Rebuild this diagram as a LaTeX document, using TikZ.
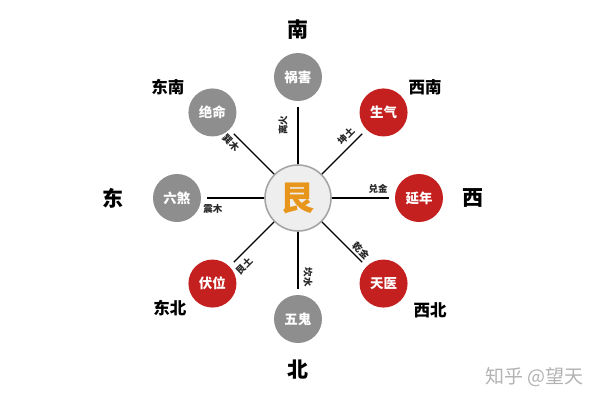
\documentclass[tikz,border=0pt]{standalone}
\usepackage{fontspec}
\setmainfont{Noto Sans CJK SC}
\definecolor{palacegray}{HTML}{8E8E8E}
\definecolor{palacered}{HTML}{C4201F}
\definecolor{genorange}{HTML}{E8951C}
\definecolor{hubfill}{HTML}{EEEEEE}

\begin{document}
\begin{tikzpicture}[x=1pt, y=1pt,
  palace/.style={circle, minimum size=48pt, inner sep=0pt, text=white,
    font=\bfseries\fontsize{13.5}{14}\selectfont},
  good/.style={palace, fill=palacered},
  bad/.style={palace, fill=palacegray},
  spoke/.style={line width=1.4pt, shorten >=6pt},
  trigram/.style={inner sep=0pt, text=black!85, font=\bfseries\fontsize{9.5}{10}\selectfont},
  compass/.style={font=\bfseries\fontsize{21}{21}\selectfont},
  corner/.style={font=\bfseries\fontsize{16.5}{17}\selectfont}]
  \useasboundingbox (-298,-202) rectangle (302,198);

  % Centre
  \node[circle, minimum size=66pt, fill=hubfill, draw=palacegray!80, line width=1.6pt,
    text=genorange, font=\bfseries\fontsize{34}{34}\selectfont] (gen) at (0,0) {艮};

  % Palaces
  \node[bad]  (huohai)  at (90:121)   {祸害};
  \node[good] (shengqi) at (45:121)   {生气};
  \node[good] (yannian) at (0:121)    {延年};
  \node[good] (tianyi)  at (-45:121)  {天医};
  \node[bad]  (wugui)   at (-90:121)  {五鬼};
  \node[good] (fuwei)   at (-135:121) {伏位};
  \node[bad]  (liusha)  at (180:121)  {六煞};
  \node[bad]  (jueming) at (135:121)  {绝命};

  % Spokes
  \draw[spoke] (gen) -- (huohai);
  \draw[spoke] (gen) -- (shengqi);
  \draw[spoke] (gen) -- (yannian);
  \draw[spoke] (gen) -- (tianyi);
  \draw[spoke] (gen) -- (wugui);
  \draw[spoke] (gen) -- (fuwei);
  \draw[spoke] (gen) -- (liusha);
  \draw[spoke] (gen) -- (jueming);

  % Trigrams on the spokes
  \node[trigram, rotate=90]  (li)   at (-15,73)  {离火};   % south
  \node[trigram, rotate=45]  (kun)  at (48,62)   {坤土};   % south-west
  \node[trigram]             (dui)  at (80,9)    {兑金};   % west
  \node[trigram, rotate=-45] (qian) at (63,-53)  {乾金};   % north-west
  \node[trigram, rotate=-90] (kan)  at (10,-79)  {坎水};   % north
  \node[trigram, rotate=45]  (gent) at (-54,-68) {艮土};   % north-east
  \node[trigram]             (zhen) at (-85,-11) {震木};   % east
  \node[trigram, rotate=-45] (xun)  at (-67,55)  {巽木};   % south-east

  % Directions
  \node[compass] (nan)  at (0,168)    {南};
  \node[compass] (bei)  at (0,-172)   {北};
  \node[compass] (dong) at (-185,0)   {东};
  \node[compass] (xi)   at (175,0)    {西};
  \node[corner]  (dongnan) at (-130,111) {东南};
  \node[corner]  (xinan)   at (127,111)  {西南};
  \node[corner]  (dongbei) at (-128,-110) {东北};
  \node[corner]  (xibei)   at (132,-112) {西北};

  % Watermark
  \node[anchor=west, text=black!30, font=\fontsize{19}{19}\selectfont] (mark) at (184,-179) {知乎 @望天};
\end{tikzpicture}
\end{document}
